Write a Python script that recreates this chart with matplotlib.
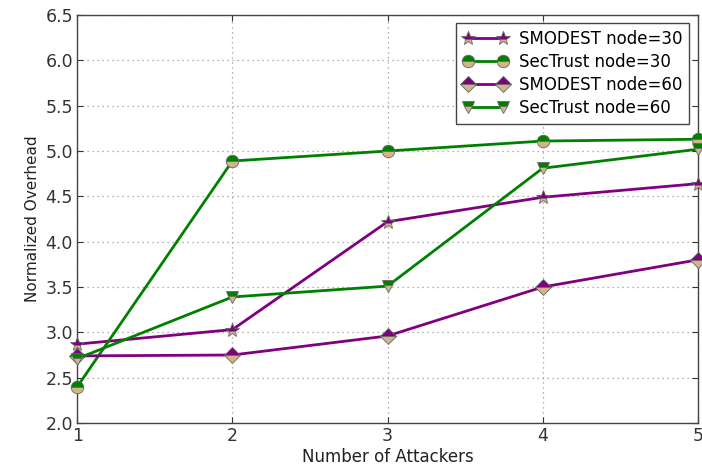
import matplotlib
matplotlib.use("Agg")
import matplotlib.pyplot as plt

# number of attackers on the x axis
attackers = [1, 2, 3, 4, 5]

# normalized overhead per scheme / network size
smodest_30 = [2.87, 3.03, 4.22, 4.49, 4.64]
sectrust_30 = [2.40, 4.89, 5.00, 5.11, 5.13]
smodest_60 = [2.74, 2.75, 2.96, 3.50, 3.80]
sectrust_60 = [2.71, 3.39, 3.51, 4.81, 5.02]

labels = ["SMODEST node=30", "SecTrust node=30", "SMODEST node=60", "SecTrust node=60"]

PURPLE = "#800080"
GREEN = "#008000"
TAN = "#D2B48C"

fig = plt.figure(figsize=(7.02, 4.70), dpi=100)
ax = fig.add_axes([0.11, 0.10, 0.884, 0.868])

series = [
    (smodest_30, PURPLE, "*", 10),
    (sectrust_30, GREEN, "o", 9),
    (smodest_60, PURPLE, "D", 8.5),
    (sectrust_60, GREEN, "v", 9),
]
for (vals, col, mk, ms), lab in zip(series, labels):
    ax.plot(attackers, vals, color=col, lw=2, marker=mk, ms=ms,
            fillstyle="top", markerfacecolor=col, markerfacecoloralt=TAN,
            markeredgecolor="#666666", markeredgewidth=0.6, label=lab,
            clip_on=False, zorder=3)

ax.set_xlim(1, 5)
ax.set_ylim(2.0, 6.5)
ax.set_xticks(attackers)
ax.set_yticks([2.0, 2.5, 3.0, 3.5, 4.0, 4.5, 5.0, 5.5, 6.0, 6.5])
ax.tick_params(direction="in", length=4, top=True, right=True, labelsize=12.5,
               colors="#333333", pad=3)
ax.grid(True, linestyle=(0, (1, 3)), color="#999999", lw=0.9)
for sp in ax.spines.values():
    sp.set_color("#444444")
    sp.set_linewidth(1.0)

ax.set_xlabel("Number of Attackers", fontsize=12, color="#222222", labelpad=2)
ax.set_ylabel("Normalized Overhead", fontsize=11, color="#222222")

leg = ax.legend(loc="upper right", numpoints=2, fontsize=12, fancybox=False,
                framealpha=1, edgecolor="#444444", handlelength=2.7,
                borderaxespad=0.5, labelspacing=0.3, handletextpad=0.7)
leg.get_frame().set_linewidth(1.0)

fig.savefig("out.png", dpi=100)
